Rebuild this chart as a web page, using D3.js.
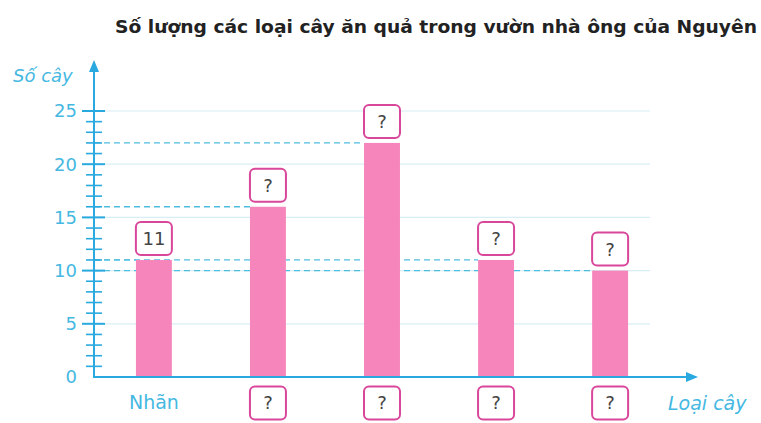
<!DOCTYPE html>
<html><head><meta charset="utf-8">
<script src="https://cdn.jsdelivr.net/npm/d3@7"></script>
<style>body{margin:0;background:#fff}svg{display:block}</style>
</head><body>
<svg id="c" width="761" height="423"></svg>
<script>
const categories = ["Nhãn", "?", "?", "?", "?"];
const values = [11, 16, 22, 11, 10];
const topLabels = ["11", "?", "?", "?", "?"];
const yTicks = [0, 5, 10, 15, 20, 25];
const title = "Số lượng các loại cây ăn quả trong vườn nhà ông của Nguyên";
const yLabel = "Số cây";
const xLabel = "Loại cây";

const svg = d3.select("#c");
const axisX = 94, baseY = 377;
const y = d3.scaleLinear().domain([0, 25]).range([baseY, 111]);
const x = d3.scaleBand().domain(d3.range(values.length)).range([96, 668]).paddingInner(0.685).paddingOuter(0.35);

const blue = "#29a9e0", lightBlue = "#45b8e2", pink = "#f585bb", pinkBorder = "#d9479b";
const font = "'DejaVu Sans', sans-serif";

// title
svg.append("text").attr("x", 115).attr("y", 33)
  .attr("font-family", font).attr("font-weight", "bold").attr("font-size", 18)
  .attr("textLength", 642).attr("lengthAdjust", "spacingAndGlyphs")
  .attr("fill", "#222").text(title);

// faint grid lines
svg.append("g").selectAll("line").data(yTicks.filter(d => d > 0)).join("line")
  .attr("x1", axisX).attr("x2", 650).attr("y1", d => y(d)).attr("y2", d => y(d))
  .attr("stroke", "#d8eef7").attr("stroke-width", 1.2);

// dashed lines to bars
svg.append("g").selectAll("line").data(values.map((v, i) => ({v, i}))).join("line")
  .attr("x1", axisX).attr("x2", d => x(d.i)).attr("y1", d => y(d.v)).attr("y2", d => y(d.v))
  .attr("stroke", "#4fbde0").attr("stroke-width", 1.3).attr("stroke-dasharray", "6,4");

// bars
svg.append("g").selectAll("rect").data(values).join("rect")
  .attr("x", (d, i) => x(i)).attr("width", x.bandwidth())
  .attr("y", d => y(d)).attr("height", d => baseY - y(d)).attr("fill", pink);

// ticks (minor and major)
svg.append("g").selectAll("line").data(d3.range(1, 26)).join("line")
  .attr("x1", d => d % 5 === 0 ? 82 : 86).attr("x2", d => d % 5 === 0 ? 105 : 102)
  .attr("y1", d => y(d)).attr("y2", d => y(d))
  .attr("stroke", blue).attr("stroke-width", d => d % 5 === 0 ? 2 : 1.6);

// y axis line & arrow
svg.append("line").attr("x1", axisX).attr("x2", axisX).attr("y1", baseY + 1).attr("y2", 66)
  .attr("stroke", blue).attr("stroke-width", 2);
svg.append("path").attr("d", `M${axisX},60 L${axisX - 5},72 L${axisX + 5},72 Z`).attr("fill", blue);
// x axis line & arrow
svg.append("line").attr("x1", axisX - 1).attr("x2", 690).attr("y1", baseY).attr("y2", baseY)
  .attr("stroke", blue).attr("stroke-width", 2);
svg.append("path").attr("d", `M698,${baseY} L686,${baseY - 5} L686,${baseY + 5} Z`).attr("fill", blue);

// y tick labels
svg.append("g").selectAll("text").data(yTicks).join("text")
  .attr("x", 77).attr("y", d => y(d)).attr("dy", "0.36em").attr("text-anchor", "end")
  .attr("font-family", font).attr("font-size", 18).attr("fill", lightBlue).text(d => d);

// axis labels
svg.append("text").attr("x", 13).attr("y", 82).attr("font-family", font).attr("font-style", "italic")
  .attr("font-size", 18).attr("fill", lightBlue).text(yLabel);
svg.append("text").attr("x", 668).attr("y", 410).attr("font-family", font).attr("font-style", "italic")
  .attr("font-size", 19).attr("fill", lightBlue).text(xLabel);

// top boxes
const bw = 36, bh = 33;
const tg = svg.append("g").selectAll("g").data(values.map((v, i) => ({v, i}))).join("g")
  .attr("transform", d => `translate(${x(d.i) + x.bandwidth() / 2},${y(d.v) - 5 - bh / 2})`);
tg.append("rect").attr("x", -bw / 2).attr("y", -bh / 2).attr("width", bw).attr("height", bh)
  .attr("rx", 5).attr("fill", "#fff").attr("stroke", pinkBorder).attr("stroke-width", 2);
tg.append("text").attr("text-anchor", "middle").attr("dy", "0.36em").attr("font-family", font)
  .attr("font-size", 18).attr("fill", "#444").text(d => topLabels[d.i]);

// bottom labels
const bg = svg.append("g").selectAll("g").data(categories.map((c, i) => ({c, i}))).join("g")
  .attr("transform", d => `translate(${x(d.i) + x.bandwidth() / 2},${402})`);
bg.filter(d => d.c !== "?").append("text").attr("text-anchor", "middle").attr("dy", "0.36em")
  .attr("font-family", font).attr("font-size", 19).attr("fill", lightBlue).text(d => d.c);
bg.filter(d => d.c === "?").append("rect").attr("x", -bw / 2).attr("y", -bh / 2 + 1).attr("width", bw).attr("height", bh)
  .attr("rx", 5).attr("fill", "#fff").attr("stroke", pinkBorder).attr("stroke-width", 2);
bg.filter(d => d.c === "?").append("text").attr("text-anchor", "middle").attr("dy", "0.4em")
  .attr("font-family", font).attr("font-size", 18).attr("fill", "#444").text(d => d.c);
</script>
</body></html>
